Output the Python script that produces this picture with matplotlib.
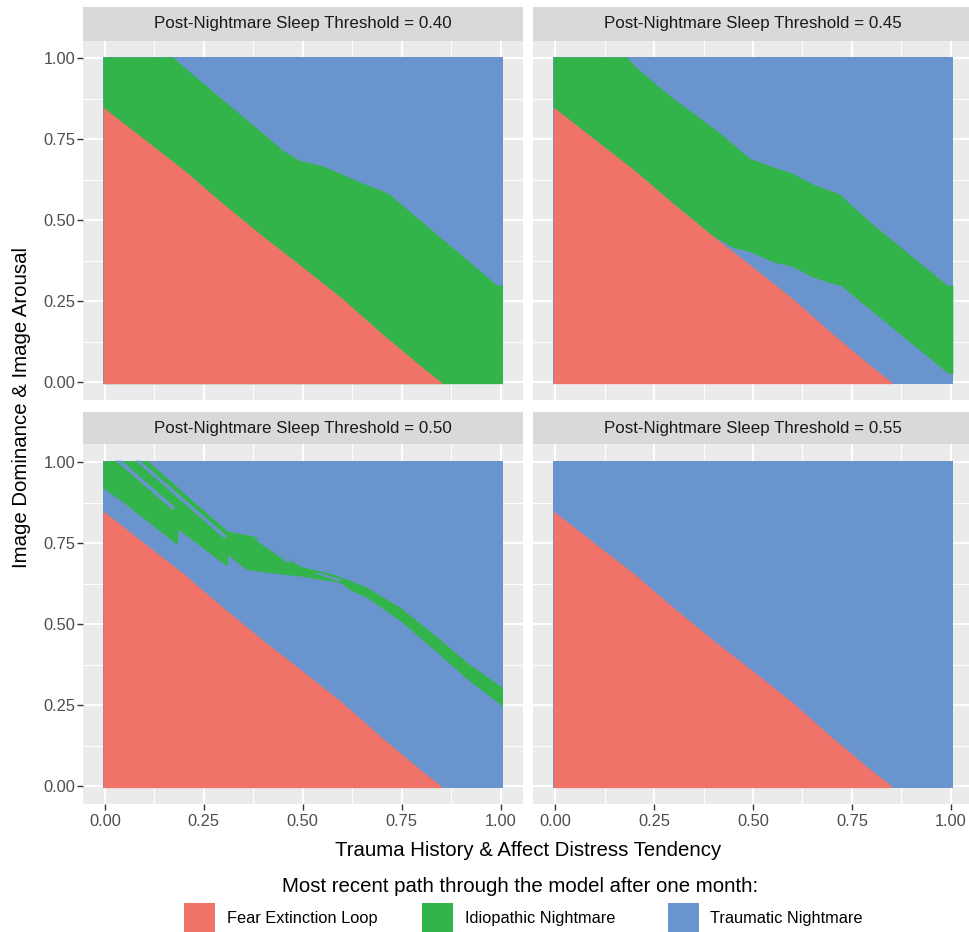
import numpy as np
import matplotlib
matplotlib.use("Agg")
import matplotlib.pyplot as plt
from matplotlib.patches import Rectangle
from matplotlib.ticker import FixedLocator, FormatStrFormatter

plt.rcParams['font.family'] = ['Liberation Sans', 'DejaVu Sans']

# ---- data (region boundaries on the 0..1 grid) ----
thresholds = ["0.40", "0.45", "0.50", "0.55"]
path_labels = ["Fear Extinction Loop", "Idiopathic Nightmare", "Traumatic Nightmare"]

# upper edge of the "Fear Extinction Loop" region (same in every panel)
fear_x = [0.0, 0.1, 0.2, 0.3, 0.4, 0.5, 0.6, 0.7, 0.8, 0.85]
fear_top = [0.85, 0.75, 0.655, 0.55, 0.45, 0.355, 0.258, 0.15, 0.048, 0.0]

# threshold 0.40: idiopathic band from the bottom up to this edge
p40_x = [0.0, 0.17, 0.20, 0.25, 0.30, 0.35, 0.40, 0.45, 0.49, 0.55, 0.60,
         0.65, 0.70, 0.72, 0.75, 0.80, 0.85, 0.90, 0.95, 0.99, 1.0]
p40_top = [1.0, 1.0, 0.974, 0.922, 0.870, 0.819, 0.768, 0.716, 0.686, 0.668, 0.642,
           0.615, 0.592, 0.580, 0.548, 0.497, 0.445, 0.394, 0.342, 0.30, 0.30]

# threshold 0.45
p45_x = [0.0, 0.18, 0.20, 0.25, 0.30, 0.35, 0.40, 0.45, 0.49, 0.55, 0.60,
         0.65, 0.70, 0.72, 0.75, 0.80, 0.85, 0.90, 0.95, 0.99, 1.0]
p45_low = [0.85, 0.67, 0.655, 0.60, 0.55, 0.50, 0.45, 0.416, 0.404, 0.372, 0.357,
           0.325, 0.305, 0.30, 0.27, 0.22, 0.17, 0.12, 0.07, 0.03, 0.025]
p45_top = [1.0, 1.0, 0.978, 0.925, 0.875, 0.83, 0.785, 0.735, 0.692, 0.665, 0.645,
           0.612, 0.59, 0.58, 0.545, 0.49, 0.44, 0.39, 0.34, 0.30, 0.30]

# threshold 0.50: thin irregular idiopathic band
p50_x = [0.0, 0.05, 0.107, 0.15, 0.1825, 0.185, 0.25, 0.309, 0.311, 0.358, 0.376, 0.417,
         0.459, 0.494, 0.526, 0.545, 0.579, 0.595, 0.621, 0.663, 0.747, 0.831, 0.916, 1.0]
p50_low = [0.921, 0.873, 0.818, 0.777, 0.746, 0.793, 0.733, 0.679, 0.714, 0.669, 0.666, 0.659,
           0.653, 0.649, 0.642, 0.638, 0.632, 0.628, 0.605, 0.582, 0.51, 0.422, 0.33, 0.247]
p50_top = [1.0, 1.0, 1.0, 0.959, 0.924, 0.921, 0.851, 0.788, 0.787, 0.776, 0.772, 0.739,
           0.705, 0.679, 0.669, 0.664, 0.654, 0.645, 0.635, 0.613, 0.551, 0.469, 0.381, 0.304]
# traumatic slits cutting through that band
p50_slit1_x = [0.027, 0.042, 0.176, 0.172]
p50_slit1_y = [1.0, 1.0, 0.862, 0.852]
p50_slit2_x = [0.077, 0.089, 0.308, 0.302]
p50_slit2_y = [1.0, 1.0, 0.772, 0.764]
p50_slit3_x = [0.378, 0.392, 0.472, 0.462]
p50_slit3_y = [0.762, 0.760, 0.692, 0.690]
p50_slit4_x = [0.53, 0.545, 0.60, 0.59]
p50_slit4_y = [0.658, 0.658, 0.636, 0.632]

RED = "#F0736A"
GREEN = "#32B44A"
BLUE = "#6A94CD"
H = 0.005  # half a raster cell

W, HGT = 969, 932
fig = plt.figure(figsize=(W / 100, HGT / 100), dpi=100)


def box(l, t, r, b):
    return [l / W, 1 - b / HGT, (r - l) / W, (b - t) / HGT]


def edges(x):
    x = np.array(x, float)
    if x[0] == 0.0:
        x[0] = -H
    if x[-1] == 1.0:
        x[-1] = 1 + H
    return x


def clamp(y):
    y = np.array(y, float)
    y[y >= 1.0] = 1 + H
    return y


panels = [
    dict(x=p40_x, low=None, top=p40_top, slits=[]),
    dict(x=p45_x, low=p45_low, top=p45_top, slits=[]),
    dict(x=p50_x, low=p50_low, top=p50_top,
         slits=[(p50_slit1_x, p50_slit1_y), (p50_slit2_x, p50_slit2_y),
                (p50_slit3_x, p50_slit3_y), (p50_slit4_x, p50_slit4_y)]),
    dict(x=None, low=None, top=None, slits=[]),
]

cols = [(83, 522.5), (533.3, 972.8)]
rows = [(6.7, 40.5, 400.0), (411.7, 444.3, 804.0)]

for i, p in enumerate(panels):
    r, c = divmod(i, 2)
    l, rr = cols[c]
    st, pt, pb = rows[r]

    # strip
    sax = fig.add_axes(box(l, st, rr, pt))
    sax.set_facecolor("#D9D9D9")
    sax.set_xticks([])
    sax.set_yticks([])
    for s in sax.spines.values():
        s.set_visible(False)
    sax.text(0.5, 0.5, f"Post-Nightmare Sleep Threshold = {thresholds[i]}",
             ha="center", va="center", fontsize=12.2, color="#1A1A1A",
             transform=sax.transAxes)

    ax = fig.add_axes(box(l, pt, rr, pb))
    ax.set_facecolor("#EBEBEB")
    ax.set_axisbelow(True)
    ax.fill_between([-H, 1 + H], -H, 1 + H, color=BLUE, lw=0, zorder=2)
    if p["x"] is not None:
        x = edges(p["x"])
        top = clamp(p["top"])
        low = np.full(len(x), -H) if p["low"] is None else np.array(p["low"], float)
        ax.fill_between(x, low, top, color=GREEN, lw=0, zorder=3)
    for sx, sy in p["slits"]:
        ax.fill(sx, clamp(sy), color=BLUE, lw=0, zorder=3.5)
    ax.fill_between(edges(fear_x), -H, fear_top, color=RED, lw=0, zorder=4)

    ax.set_xlim(-0.0555, 1.0555)
    ax.set_ylim(-0.0555, 1.0555)
    ax.xaxis.set_major_locator(FixedLocator([0, 0.25, 0.5, 0.75, 1.0]))
    ax.yaxis.set_major_locator(FixedLocator([0, 0.25, 0.5, 0.75, 1.0]))
    ax.xaxis.set_minor_locator(FixedLocator([0.125, 0.375, 0.625, 0.875]))
    ax.yaxis.set_minor_locator(FixedLocator([0.125, 0.375, 0.625, 0.875]))
    ax.xaxis.set_major_formatter(FormatStrFormatter("%.2f"))
    ax.yaxis.set_major_formatter(FormatStrFormatter("%.2f"))
    ax.grid(which="major", color="white", lw=1.4)
    ax.grid(which="minor", color="white", lw=0.7)
    for s in ax.spines.values():
        s.set_visible(False)
    ax.tick_params(which="minor", length=0)
    ax.tick_params(which="major", length=4, width=1.0, color="#333333",
                   labelcolor="#4D4D4D", labelsize=11.8)
    ax.tick_params(axis="y", pad=1.5)
    ax.tick_params(axis="x", pad=3)
    if r == 0:
        ax.tick_params(axis="x", bottom=False, labelbottom=False)
    if c == 1:
        ax.tick_params(axis="y", left=False, labelleft=False)

fig.text(22 / W, 1 - 407 / HGT, "Image Dominance & Image Arousal", rotation=90,
         ha="center", va="center", fontsize=14.7, color="black")
fig.text(528 / W, 1 - 850 / HGT, "Trauma History & Affect Distress Tendency",
         ha="center", va="center", fontsize=14.7, color="black")

# legend
fig.text(520.5 / W, 1 - 886.7 / HGT, "Most recent path through the model after one month:",
         ha="center", va="center", fontsize=14.7, color="black")
key_left = [184, 422, 667.5]
label_left = [227, 465, 709.5]
for kl, tl, lab, col in zip(key_left, label_left, path_labels, [RED, GREEN, BLUE]):
    fig.patches.append(Rectangle((kl / W, 1 - 933 / HGT), 31 / W, 30.5 / HGT,
                                 transform=fig.transFigure, facecolor=col, lw=0))
    fig.text(tl / W, 1 - 918 / HGT, lab, ha="left", va="center", fontsize=11.8,
             color="black")

fig.savefig("out.png", dpi=100)
